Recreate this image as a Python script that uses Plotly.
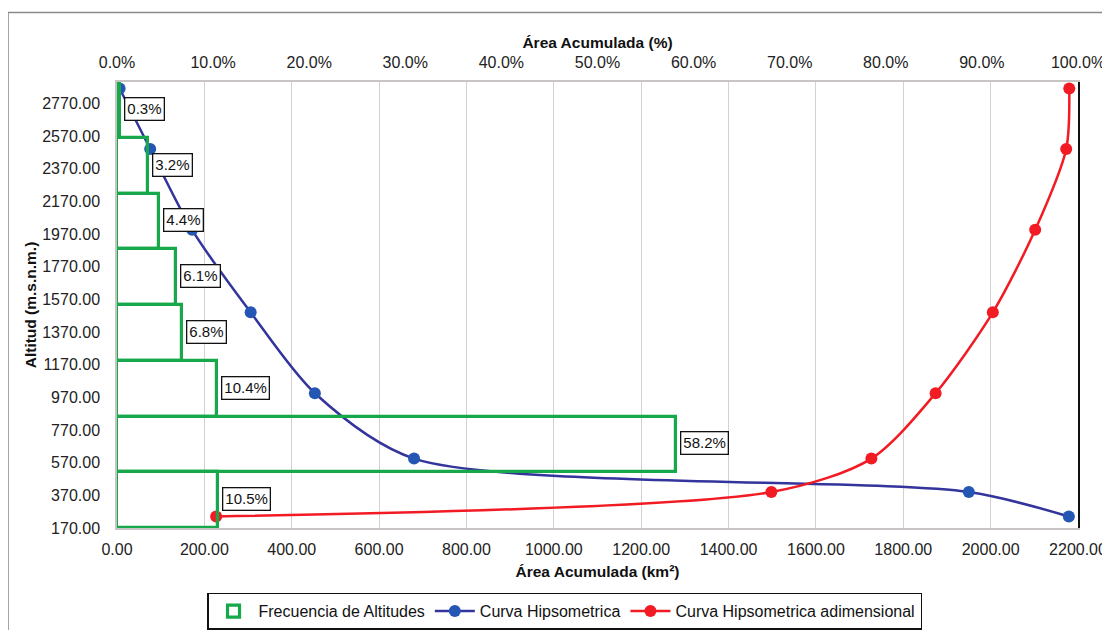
import plotly.graph_objects as go

# ---------------- data ----------------
bin_index = [0, 1, 2, 3, 4, 5, 6, 7]
freq_pct = [0.3, 3.2, 4.4, 6.1, 6.8, 10.4, 58.2, 10.5]          # Frecuencia de Altitudes (%)
altitudes = [2860, 2490, 1995, 1490, 995, 595, 390, 240]        # m.s.n.m.
area_hipso = [6, 76, 172, 306, 453, 680, 1950, 2179]            # km2, Curva Hipsometrica
area_adim = [2180, 2173, 2102, 2005, 1874, 1727, 1498, 227]     # km2, Curva Hipsometrica adimensional
x_ticks = [0, 200, 400, 600, 800, 1000, 1200, 1400, 1600, 1800, 2000, 2200]
y_ticks = [170, 370, 570, 770, 970, 1170, 1370, 1570, 1770, 1970, 2170, 2370, 2570, 2770]
pct_ticks = [0.0, 0.1, 0.2, 0.3, 0.4, 0.5, 0.6, 0.7, 0.8, 0.9, 1.0]

FONT = "Liberation Sans, Arial, sans-serif"
GREEN = "#16A84A"
BLUE_LINE = "#33349C"
BLUE_MK = "#2456B4"
RED = "#F21B24"

fig = go.Figure()

fig.add_trace(go.Bar(
    x=[v / 100 for v in freq_pct], y=bin_index, orientation="h",
    xaxis="x2", yaxis="y2", width=1,
    marker=dict(color="rgba(255,255,255,0)", line=dict(color=GREEN, width=3.2)),
    name="Frecuencia de Altitudes", hoverinfo="skip",
))
fig.add_trace(go.Scatter(
    x=area_hipso, y=altitudes, mode="lines+markers",
    line=dict(color=BLUE_LINE, width=2.5, shape="spline", smoothing=0.8),
    marker=dict(color=BLUE_MK, size=12),
    name="Curva Hipsometrica",
))
fig.add_trace(go.Scatter(
    x=area_adim, y=altitudes, mode="lines+markers",
    line=dict(color=RED, width=2.5, shape="spline", smoothing=0.8),
    marker=dict(color=RED, size=12),
    name="Curva Hipsometrica adimensional",
))

annotations = []
for i, v in zip(bin_index, freq_pct):
    annotations.append(dict(
        x=v / 100, y=i, xref="x2", yref="y2", text=f"{v:.1f}%",
        showarrow=False, xanchor="left", yanchor="middle", xshift=4, yshift=1,
        font=dict(family=FONT, size=15, color="#111111"),
        bgcolor="white", bordercolor="#111111", borderwidth=1.3, borderpad=2,
    ))

fig.update_layout(
    template="none",
    width=1102, height=622,
    margin=dict(l=109, r=32, t=74, b=102, autoexpand=False),
    paper_bgcolor="white", plot_bgcolor="white",
    font=dict(family=FONT, size=16, color="#222222"),
    bargap=0,
    showlegend=True,
    legend=dict(
        orientation="h", xref="container", yref="container",
        x=0.505, xanchor="center", y=0.06, yanchor="top",
        bordercolor="#111111", borderwidth=1.5, bgcolor="white",
        font=dict(family=FONT, size=16, color="#111111"),
        itemwidth=40, tracegroupgap=0,
    ),
    annotations=annotations,
    xaxis=dict(
        automargin=False,
        range=[0, 2200], tickvals=x_ticks, tickformat=".2f",
        showgrid=True, gridcolor="#d6d0d0", gridwidth=1.2,
        showline=True, linecolor="#c8c4c4", linewidth=1.5, zeroline=False,
        ticks="", ticklabelstandoff=6,
        tickfont=dict(size=16, color="#222222"),
        title=dict(text="<b>Área Acumulada (km²)</b>", font=dict(size=15.5, color="#111111"), standoff=9),
    ),
    xaxis2=dict(
        automargin=False,
        range=[0, 1], overlaying="x", side="top", tickvals=pct_ticks, tickformat=".1%",
        showgrid=False, showline=True, linecolor="#c8c4c4", linewidth=1.5, zeroline=False,
        ticks="", ticklabelstandoff=6,
        tickfont=dict(size=16, color="#222222"),
        title=dict(text="<b>Área Acumulada (%)</b>", font=dict(size=15.5, color="#111111"), standoff=1),
    ),
    yaxis=dict(
        automargin=False,
        range=[170, 2900], tickvals=y_ticks, tickformat=".2f",
        showgrid=False, showline=True, linecolor="#c8c4c4", linewidth=1.5, zeroline=False,
        ticks="", ticklabelstandoff=12,
        tickfont=dict(size=16, color="#222222"),
        title=dict(text="<b>Altitud (m.s.n.m.)</b>", font=dict(size=15.5, color="#111111"), standoff=2),
    ),
    yaxis2=dict(
        automargin=False,
        range=[7.5, -0.5], overlaying="y", side="right",
        showticklabels=False, showgrid=False, zeroline=False, ticks="",
        showline=True, linecolor="#111111", linewidth=2,
    ),
    shapes=[dict(
        type="rect", xref="paper", yref="paper",
        x0=-0.1134, x1=1.2, y0=-0.4, y1=1.156,
        line=dict(color="#8a8a8a", width=1.5), fillcolor="rgba(0,0,0,0)", layer="below",
    )],
)

fig.write_html("out.html")
